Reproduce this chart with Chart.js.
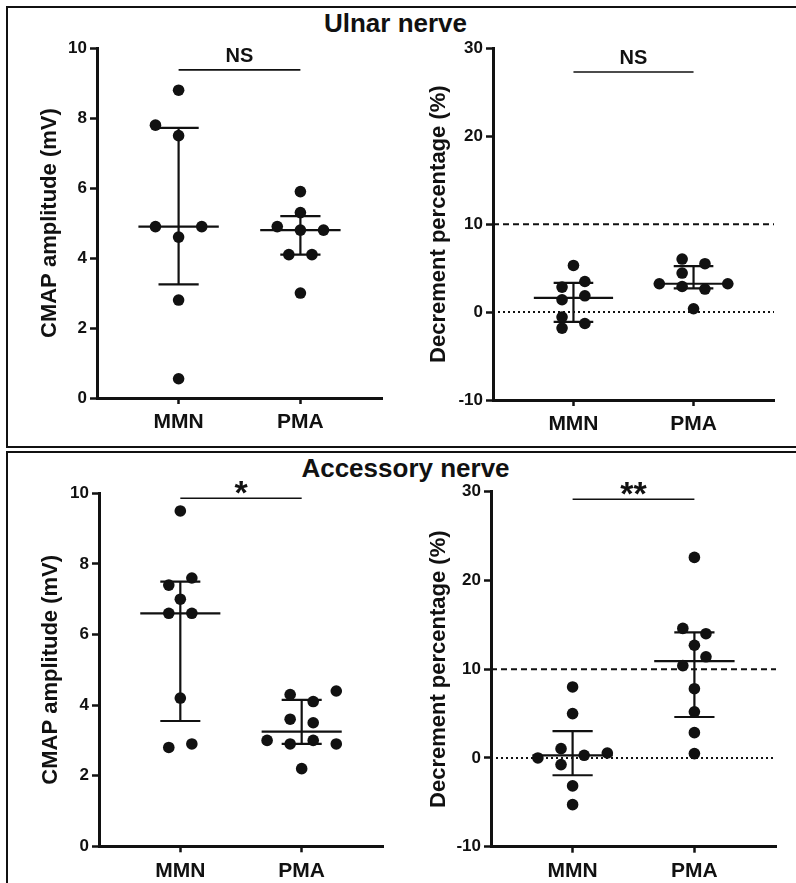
<!DOCTYPE html>
<html>
<head>
<meta charset="utf-8">
<title>Ulnar and accessory nerve – CMAP amplitude and decrement</title>
<script src="https://cdn.jsdelivr.net/npm/chart.js@4.4.1/dist/chart.umd.min.js"></script>
<style>
  html { overflow: hidden; }
  body { margin: 0; background: #fff; width: 796px; height: 883px; overflow: hidden; position: relative;
         font-family: "Liberation Sans", Arial, sans-serif; }
  .box { position: absolute; left: 6px; width: 900px; border: 2.5px solid #111; box-sizing: border-box; }
  #boxTop { top: 6px; height: 442px; }
  #boxBottom { top: 451px; height: 460px; }
  .title { position: absolute; left: 0; text-align: center; font-weight: bold; font-size: 26px;
           line-height: 26px; color: #111; }
  canvas { position: absolute; }
</style>
</head>
<body>
<div class="box" id="boxTop"></div>
<div class="box" id="boxBottom"></div>
<div class="title" style="top:10px; width:791px;">Ulnar nerve</div>
<div class="title" style="top:455px; width:811px;">Accessory nerve</div>

<canvas id="ulnarAmp" width="365" height="405" style="left:30px; top:35px;"></canvas>
<canvas id="ulnarDec" width="370" height="405" style="left:420px; top:35px;"></canvas>
<canvas id="accAmp" width="365" height="403" style="left:30px; top:480px;"></canvas>
<canvas id="accDec" width="370" height="405" style="left:420px; top:478px;"></canvas>

<script>
// Groups on the x axis
const groups = ['MMN', 'PMA'];

// Ulnar nerve - CMAP amplitude (mV)
const ulnarAmpMMN = [8.8, 7.8, 7.5, 4.9, 4.9, 4.6, 2.8, 0.55];
const ulnarAmpPMA = [5.9, 5.3, 4.9, 4.8, 4.8, 4.1, 4.1, 3.0];
// Ulnar nerve - decrement percentage (%)
const ulnarDecMMN = [5.3, 3.48, 2.84, 1.85, 1.4, -0.57, -1.82, -1.3];
const ulnarDecPMA = [6.03, 5.5, 4.44, 3.22, 3.22, 2.91, 2.62, 0.38];
// Accessory nerve - CMAP amplitude (mV)
const accAmpMMN = [9.5, 7.6, 7.4, 7.0, 6.6, 6.6, 4.2, 2.8, 2.9];
const accAmpPMA = [4.3, 4.4, 4.1, 3.6, 3.5, 3.0, 2.9, 3.0, 2.9, 2.2];
// Accessory nerve - decrement percentage (%)
const accDecMMN = [8.0, 5.0, 1.05, 0, 0.3, 0.56, -0.75, -3.15, -5.26];
const accDecPMA = [22.6, 14.6, 14.0, 12.7, 11.4, 10.4, 7.8, 5.2, 2.85, 0.49];

// Side-by-side slot of each dot in the column scatter (0 = on the column centre)
const ulnarAmpMMNslot = [0, -2, 0, -2, 2, 0, 0, 0];
const ulnarAmpPMAslot = [0, 0, -2, 0, 2, -1, 1, 0];
const ulnarDecMMNslot = [0, 1, -1, 1, -1, -1, -1, 1];
const ulnarDecPMAslot = [-1, 1, -1, -3, 3, -1, 1, 0];
const accAmpMMNslot = [0, 1, -1, 0, -1, 1, 0, -1, 1];
const accAmpPMAslot = [-1, 3, 1, -1, 1, -3, -1, 1, 3, 0];
const accDecMMNslot = [0, 0, -1, -3, 1, 3, -1, 0, 0];
const accDecPMAslot = [0, -1, 1, 0, 1, -1, 0, 0, 0, 0];

// Significance labels and the height of their bars
const sigLabels = ['NS', 'NS', '*', '**'];
const sigHeights = [9.38, 27.3, 9.86, 29.15];

// Decrement threshold lines
const decThreshold = 10;
const decZero = 0;

const INK = '#111';
const FONT = '"Liberation Sans", Arial, sans-serif';
const SLOT = 0.095;
const X_MIN = 0.33, X_MAX = 2.67;

Chart.defaults.font.family = FONT;
Chart.defaults.color = INK;

// quartiles the way GraphPad does it: position p*(n+1)
function quantile(vals, p) {
  const s = [...vals].sort((a, b) => a - b);
  const pos = p * (s.length + 1);
  const lo = Math.floor(pos);
  if (lo < 1) return s[0];
  if (lo >= s.length) return s[s.length - 1];
  return s[lo - 1] + (pos - lo) * (s[lo] - s[lo - 1]);
}

function seg(x1, y1, x2, y2, width, dash) {
  return {
    type: 'scatter', showLine: true, order: dash ? 3 : 2,
    data: [{ x: x1, y: y1 }, { x: x2, y: y2 }],
    borderColor: INK, borderWidth: width, borderDash: dash || [],
    pointRadius: 0, fill: false
  };
}

function groupDatasets(vals, slots, c) {
  const med = quantile(vals, 0.5), q1 = quantile(vals, 0.25), q3 = quantile(vals, 0.75);
  return [
    {
      type: 'scatter', order: 1,
      data: vals.map((v, i) => ({ x: c + slots[i] * SLOT, y: v })),
      pointRadius: 5.8, pointBackgroundColor: INK, pointBorderWidth: 0
    },
    seg(c - 0.33, med, c + 0.33, med, 2.2),
    seg(c, q1, c, q3, 2.2),
    seg(c - 0.165, q1, c + 0.165, q1, 2.2),
    seg(c - 0.165, q3, c + 0.165, q3, 2.2)
  ];
}

const sigPlugin = {
  id: 'sigLabel',
  afterDatasetsDraw(chart, args, opts) {
    const { ctx, scales: { x, y } } = chart;
    const star = opts.text.includes('*');
    ctx.save();
    ctx.fillStyle = INK;
    ctx.textAlign = 'center';
    ctx.textBaseline = 'alphabetic';
    ctx.font = 'bold ' + (star ? 34 : 20) + 'px ' + FONT;
    ctx.fillText(opts.text, x.getPixelForValue(1.5), y.getPixelForValue(opts.y) + (star ? 6 : -8));
    ctx.restore();
  }
};

function makePanel(id, p) {
  const datasets = [
    ...groupDatasets(p.mmn, p.mmnSlot, 1),
    ...groupDatasets(p.pma, p.pmaSlot, 2),
    seg(1, p.sigY, 2, p.sigY, 1.6)
  ];
  if (p.refLines) {
    datasets.push(seg(X_MIN, decThreshold, X_MAX, decThreshold, 2, [6, 4]));
    datasets.push(seg(X_MIN, decZero, X_MAX, decZero, 2, [2, 3]));
  }
  new Chart(document.getElementById(id), {
    type: 'scatter',
    data: { datasets },
    plugins: [sigPlugin],
    options: {
      responsive: false,
      animation: false,
      layout: { padding: { top: p.padTop, right: p.padRight, left: 0, bottom: 0 } },
      plugins: {
        legend: { display: false },
        tooltip: { enabled: false },
        sigLabel: { text: p.sig, y: p.sigY }
      },
      scales: {
        x: {
          type: 'linear', min: X_MIN, max: X_MAX,
          afterBuildTicks: s => { s.ticks = groups.map((g, i) => ({ value: i + 1 })); },
          afterFit: s => { s.height = p.xH; },
          ticks: {
            callback: v => groups[v - 1],
            font: { size: 21, weight: 'bold' }, color: INK, padding: 6, maxRotation: 0
          },
          grid: { drawOnChartArea: false, tickLength: 6, tickWidth: 2.5, tickColor: INK },
          border: { color: INK, width: 3 }
        },
        y: {
          min: p.yMin, max: p.yMax,
          afterFit: s => { s.width = p.yW; },
          ticks: { stepSize: p.step, font: { size: 17, weight: 'bold' }, color: INK, padding: 3 },
          grid: { drawOnChartArea: false, tickLength: 7, tickWidth: 2.5, tickColor: INK },
          border: { color: INK, width: 3 },
          title: {
            display: true, text: p.yTitle, color: INK,
            font: { size: 22, weight: 'bold' }, padding: { top: p.titlePad, bottom: 0 }
          }
        }
      }
    }
  });
}

makePanel('ulnarAmp', {
  mmn: ulnarAmpMMN, mmnSlot: ulnarAmpMMNslot, pma: ulnarAmpPMA, pmaSlot: ulnarAmpPMAslot,
  yMin: 0, yMax: 10, step: 2, yTitle: 'CMAP amplitude (mV)',
  sig: sigLabels[0], sigY: sigHeights[0], refLines: false,
  yW: 67, xH: 42, padTop: 10, padRight: 13, titlePad: 6.4
});
makePanel('ulnarDec', {
  mmn: ulnarDecMMN, mmnSlot: ulnarDecMMNslot, pma: ulnarDecPMA, pmaSlot: ulnarDecPMAslot,
  yMin: -10, yMax: 30, step: 10, yTitle: 'Decrement percentage (%)',
  sig: sigLabels[1], sigY: sigHeights[1], refLines: true,
  yW: 73, xH: 40, padTop: 13.3, padRight: 16, titlePad: 5.8
});
makePanel('accAmp', {
  mmn: accAmpMMN, mmnSlot: accAmpMMNslot, pma: accAmpPMA, pmaSlot: accAmpPMAslot,
  yMin: 0, yMax: 10, step: 2, yTitle: 'CMAP amplitude (mV)',
  sig: sigLabels[2], sigY: sigHeights[2], refLines: false,
  yW: 69, xH: 36.7, padTop: 13.3, padRight: 12, titlePad: 8.1
});
makePanel('accDec', {
  mmn: accDecMMN, mmnSlot: accDecMMNslot, pma: accDecPMA, pmaSlot: accDecPMAslot,
  yMin: -10, yMax: 30, step: 10, yTitle: 'Decrement percentage (%)',
  sig: sigLabels[3], sigY: sigHeights[3], refLines: true,
  yW: 71, xH: 36.3, padTop: 13.7, padRight: 14, titlePad: 5.8
});
</script>
</body>
</html>
